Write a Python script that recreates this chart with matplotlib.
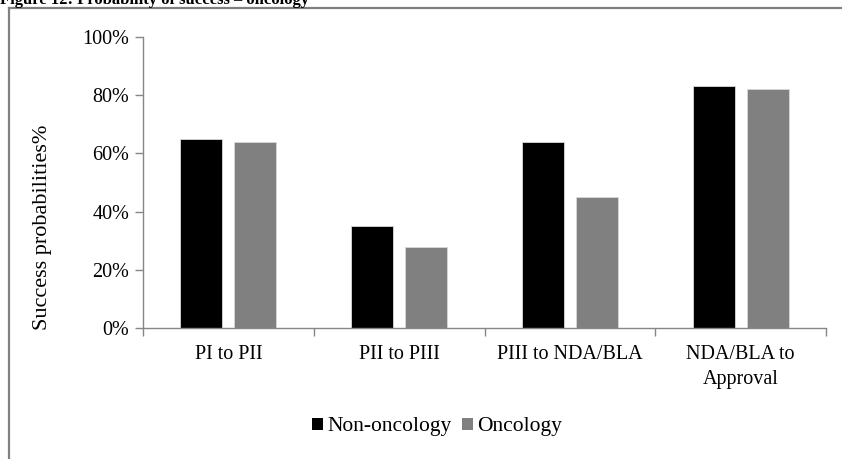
import numpy as np
import matplotlib
matplotlib.use("Agg")
from matplotlib import pyplot as plt
from matplotlib.lines import Line2D
from matplotlib.patches import Patch

# data
categories = ["PI to PII", "PII to PIII", "PIII to NDA/BLA", "NDA/BLA to\nApproval"]
non_oncology = [65, 35, 64, 83]
oncology = [64, 28, 45, 82]
yticks = [0, 20, 40, 60, 80, 100]

plt.rcParams['font.family'] = ['Liberation Serif', 'DejaVu Serif']

W, H = 842, 459
fig = plt.figure(figsize=(W / 100, H / 100), dpi=100)

# axes placement in pixels
left, right, top, bottom = 143, 826, 37, 328
ax = fig.add_axes([left / W, 1 - bottom / H, (right - left) / W, (bottom - top) / H])

axcol = '#868686'
x = np.arange(len(categories))
bw = 0.246
off = 0.158
ax.bar(x - off, non_oncology, bw, color='black', edgecolor='#d9d9d9', linewidth=0.6, label='Non-oncology')
ax.bar(x + off, oncology, bw, color='#808080', edgecolor='#d9d9d9', linewidth=0.6, label='Oncology')

ax.set_xlim(-0.5, len(categories) - 0.5)
ax.set_ylim(0, 100)
ax.set_yticks(yticks)
ax.set_yticklabels([f"{v}%" for v in yticks], fontsize=14.5)

# category ticks on boundaries, labels in the middle
ax.set_xticks(np.arange(len(categories) + 1) - 0.5)
ax.set_xticklabels([])
ax.set_xticks(x, minor=True)
ax.set_xticklabels(categories, minor=True, fontsize=14.5, linespacing=1.45)
ax.tick_params(axis='x', which='minor', length=0, pad=12)
ax.tick_params(axis='x', which='major', length=6, color=axcol, width=1)
ax.tick_params(axis='y', length=6, color=axcol, width=1, pad=4)

for s in ['top', 'right']:
    ax.spines[s].set_visible(False)
for s in ['left', 'bottom']:
    ax.spines[s].set_color(axcol)
    ax.spines[s].set_linewidth(1)

fig.text(43 / W, 1 - 227 / H, "Success probabilities%", rotation=90,
         ha='center', va='center', fontsize=16)

handles = [Patch(facecolor='black'), Patch(facecolor='#808080')]
fig.legend(handles, ['Non-oncology', 'Oncology'], loc='center',
           bbox_to_anchor=(437 / W, 1 - 427 / H), ncol=2, frameon=False,
           fontsize=15.5, handlelength=0.5, handleheight=0.5,
           handletextpad=0.2, columnspacing=0.5)

# frame around the figure (partly cropped)
fig.add_artist(Line2D([8.5 / W, 8.5 / W], [0, 1 - 7.5 / H], color='#808080', lw=1.6))
fig.add_artist(Line2D([8.5 / W, 1], [1 - 7.5 / H, 1 - 7.5 / H], color='#808080', lw=1.6))

# title, mostly cut off at top as in the source
fig.text(0.0, 1 - 4 / H, "Figure 12: Probability of success \u2013 oncology",
         ha='left', va='baseline', fontsize=12, fontweight='bold')

fig.savefig("out.png", dpi=100)
